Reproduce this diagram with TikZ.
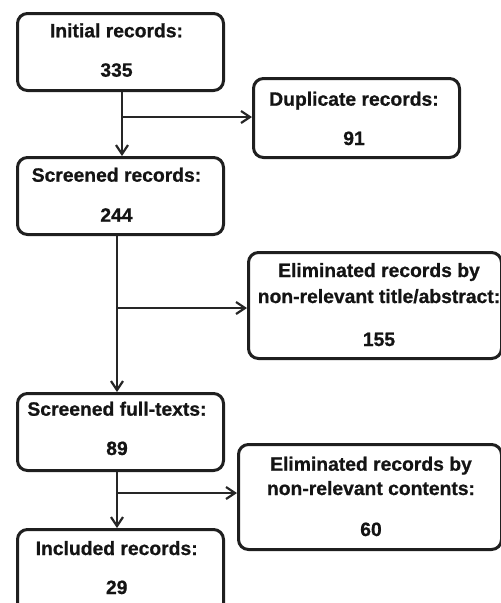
\documentclass[tikz,border=0pt]{standalone}
\usepackage{fontspec}
\setmainfont{Liberation Sans}[BoldFeatures={FakeBold=0.8}]
\usetikzlibrary{arrows.meta}
\begin{document}
\begin{tikzpicture}[x=1pt,y=-1pt,
  box/.style={draw=black!88, line width=3pt, rounded corners=10pt, anchor=north west, inner sep=0pt},
  txt/.style={anchor=base, inner sep=0pt, text=black!92, font=\fontsize{19.3}{23}\selectfont\bfseries},
  arr/.style={draw=black!85, line width=2.2pt, -{Straight Barb[length=9pt,width=12pt,line width=2.2pt]}}]
\useasboundingbox (0,0) rectangle (501,603);
% boxes
\node[box, minimum width=206pt, minimum height=77pt] (A) at (16,12) {};
\node[box, minimum width=206pt, minimum height=79pt] (B) at (252,77) {};
\node[box, minimum width=206pt, minimum height=77pt] (C) at (16,156) {};
\node[box, minimum width=253pt, minimum height=106pt] (D) at (247,251) {};
\node[box, minimum width=206pt, minimum height=77pt] (E) at (16,392) {};
\node[box, minimum width=263pt, minimum height=105pt] (F) at (237,443) {};
\node[box, minimum width=206pt, minimum height=92pt] (G) at (16,528) {};
% texts
\node[txt] (At) at (116.5,37.3) {Initial records:};
\node[txt] (An) at (116.5,76.7) {335};
\node[txt] (Bt) at (354,105.7) {Duplicate records:};
\node[txt] (Bn) at (354,145) {91};
\node[txt] (Ct) at (116.5,181.7) {Screened records:};
\node[txt] (Cn) at (116.5,221.7) {244};
\node[txt] (Dt1) at (379,277) {Eliminated records by};
\node[txt] (Dt2) at (379,303) {non-relevant title/abstract:};
\node[txt] (Dn) at (379,346) {155};
\node[txt] (Et) at (117,415.7) {Screened full-texts:};
\node[txt] (En) at (117,455) {89};
\node[txt] (Ft1) at (371,470.7) {Eliminated records by};
\node[txt] (Ft2) at (371,495) {non-relevant contents:};
\node[txt] (Fn) at (371,536) {60};
\node[txt] (Gt) at (116.7,555) {Included records:};
\node[txt] (Gn) at (116.7,594) {29};
% connectors
\coordinate (j1) at (122,117);
\coordinate (j2) at (117,308);
\coordinate (j3) at (117,493);
\draw[arr] (A.south -| j1) -- (j1 |- C.north);
\draw[arr] (j1) -- (j1 -| B.west);
\draw[arr] (C.south -| j2) -- (j2 |- E.north);
\draw[arr] (j2) -- (j2 -| D.west);
\draw[arr] (E.south -| j3) -- (j3 |- G.north);
\draw[arr] (j3) -- (j3 -| F.west);
\end{tikzpicture}
\end{document}
